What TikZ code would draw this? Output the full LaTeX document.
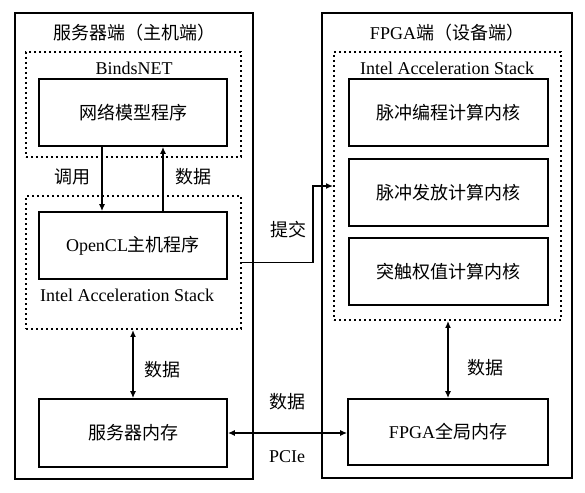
\documentclass[tikz,border=0pt]{standalone}
\usepackage{fontspec}
\setmainfont{Liberation Serif}
\newfontfamily\cjk{Noto Sans CJK SC}
\usetikzlibrary{arrows.meta}
\newcommand{\zh}[1]{{\cjk #1}}
\tikzset{
  box/.style={draw, line width=1.7pt, inner sep=0pt},
  dotbox/.style={draw, line width=1.9pt, dash pattern=on 2pt off 3pt, inner sep=0pt},
  lbl/.style={inner sep=0pt, font=\fontsize{18}{21}\selectfont},
  arr/.style={line width=1.5pt, -{Latex[length=7pt,width=6pt]}},
  darr/.style={line width=1.5pt, {Latex[length=7pt,width=6pt]}-{Latex[length=7pt,width=6pt]}}
}
\begin{document}
\begin{tikzpicture}[x=1pt,y=-1pt]
\useasboundingbox (0,0) rectangle (585,492);
% outer boxes
\node[box, minimum width=238pt, minimum height=466pt] (leftouter) at (134,246) {};
\node[box, minimum width=250pt, minimum height=465pt] (rightouter) at (447,245.5) {};
\node[lbl] (ltitle) at (134,33) {\zh{服务器端（主机端）}};
\node[lbl] (rtitle) at (447,33) {FPGA\zh{端（设备端）}};
% left side
\node[dotbox, minimum width=215pt, minimum height=105pt] (binds) at (133.5,104.5) {};
\node[lbl] (bindslbl) at (134,68) {BindsNET};
\node[box, minimum width=188pt, minimum height=67pt, lbl] (net) at (133,112.5) {\zh{网络模型程序}};
\node[dotbox, minimum width=215pt, minimum height=133pt] (lstack) at (133.5,262.5) {};
\node[box, minimum width=188pt, minimum height=67pt, lbl] (opencl) at (133,245.5) {OpenCL\zh{主机程序}};
\node[lbl, anchor=west] (lstacklbl) at (40,295) {Intel Acceleration Stack};
\node[lbl] (call) at (72,177) {\zh{调用}};
\node[lbl] (data1) at (193,177) {\zh{数据}};
\coordinate (ax1) at (102,0);
\coordinate (ax2) at (163,0);
\draw[arr] (ax1 |- net.south) -- (ax1 |- opencl.north);
\draw[arr] (ax2 |- opencl.north) -- (ax2 |- net.south);
\node[box, minimum width=188pt, minimum height=68pt, lbl] (lmem) at (133,433) {\zh{服务器内存}};
\draw[darr] (lstack.south -| lmem.north) -- (lmem.north);
\node[lbl] (data2) at (162,370) {\zh{数据}};
% right side
\node[dotbox, minimum width=227pt, minimum height=268pt] (rstack) at (447.5,186) {};
\node[lbl] (rstacklbl) at (447,68) {Intel Acceleration Stack};
\node[box, minimum width=199pt, minimum height=67pt, lbl] (k1) at (448.5,112.5) {\zh{脉冲编程计算内核}};
\node[box, minimum width=199pt, minimum height=67pt, lbl] (k2) at (448.5,192.5) {\zh{脉冲发放计算内核}};
\node[box, minimum width=199pt, minimum height=67pt, lbl] (k3) at (448.5,271.5) {\zh{突触权值计算内核}};
\node[box, minimum width=200pt, minimum height=66pt, lbl] (rmem) at (448,432) {FPGA\zh{全局内存}};
\draw[darr] (rstack.south -| rmem.north) -- (rmem.north);
\node[lbl] (data3) at (485,368) {\zh{数据}};
% connections between sides
\draw[arr] (lstack.east) -- ++(71,0) |- (rstack.west);
\node[lbl] (submit) at (288,230) {\zh{提交}};
\draw[darr] (lmem.east) -- (lmem.east -| rmem.west);
\node[lbl] (data4) at (287,402) {\zh{数据}};
\node[lbl] (pcie) at (287,457) {PCIe};
\end{tikzpicture}
\end{document}
